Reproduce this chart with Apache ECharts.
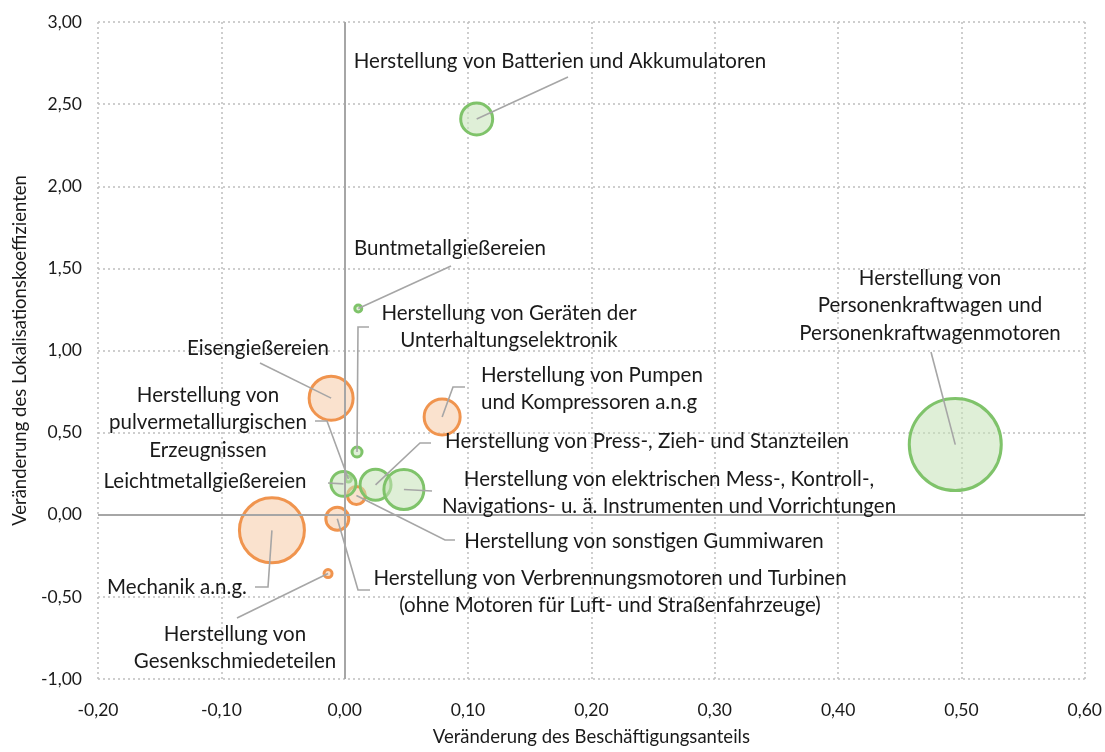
<!DOCTYPE html>
<html>
<head>
<meta charset="utf-8">
<script src="https://cdn.jsdelivr.net/npm/echarts@6/dist/echarts.min.js"></script>
<style>
html,body{margin:0;padding:0;background:#fff;}
#chart{width:1105px;height:752px;}
</style>
</head>
<body>
<div id="chart"></div>
<script>
// ---- data ----
const names = [
  "Herstellung von Batterien und Akkumulatoren",
  "Buntmetallgießereien",
  "Herstellung von Geräten der Unterhaltungselektronik",
  "Eisengießereien",
  "Herstellung von Pumpen und Kompressoren a.n.g",
  "Herstellung von pulvermetallurgischen Erzeugnissen",
  "Leichtmetallgießereien",
  "Herstellung von Press-, Zieh- und Stanzteilen",
  "Herstellung von elektrischen Mess-, Kontroll-, Navigations- u. ä. Instrumenten und Vorrichtungen",
  "Herstellung von sonstigen Gummiwaren",
  "Herstellung von Verbrennungsmotoren und Turbinen (ohne Motoren für Luft- und Straßenfahrzeuge)",
  "Mechanik a.n.g.",
  "Herstellung von Gesenkschmiedeteilen",
  "Herstellung von Personenkraftwagen und Personenkraftwagenmotoren"
];
const xValues = [0.107, 0.011, 0.010, -0.011, 0.079, 0.003, -0.001, 0.025, 0.048, 0.0095, -0.006, -0.059, -0.0135, 0.495];
const yValues = [2.41, 1.256, 0.382, 0.71, 0.595, 0.218, 0.188, 0.182, 0.154, 0.117, -0.024, -0.095, -0.358, 0.427];
const sizeValues = [256, 12, 25, 484, 324, 9, 156, 240, 400, 81, 132, 1056, 16, 2116];
const groups = ["g","g","g","o","o","g","g","g","g","o","o","o","o","g"];
const xTicks = ["-0,20","-0,10","0,00","0,10","0,20","0,30","0,40","0,50","0,60"];
const yTicks = ["-1,00","-0,50","0,00","0,50","1,00","1,50","2,00","2,50","3,00"];

// ---- label layout (pixel positions, not data) ----
const labelLayout = [
  {lines:["Herstellung von Batterien und Akkumulatoren"], x:560, y:61, align:"center", leader:[[568,77]]},
  {lines:["Buntmetallgießereien"], x:450, y:248, align:"center", leader:[[451,266]]},
  {lines:["Herstellung von Geräten der","Unterhaltungselektronik"], x:509, y:313, align:"center", leader:[[358,327],[369,327]]},
  {lines:["Eisengießereien"], x:258, y:348, align:"center", leader:[[260,363]]},
  {lines:["Herstellung von Pumpen","und Kompressoren a.n.g"], x:481, y:375, align:"left", leader:[[453,387],[465,387]]},
  {lines:["Herstellung von","pulvermetallurgischen","Erzeugnissen"], x:208, y:395, align:"center", leader:[[327,421],[315,421]]},
  {lines:["Leichtmetallgießereien"], x:205, y:481, align:"center", leader:[[328,483]]},
  {lines:["Herstellung von Press-, Zieh- und Stanzteilen"], x:647, y:441, align:"center", leader:[[420,443],[431,443]]},
  {lines:["Herstellung von elektrischen Mess-, Kontroll-,","Navigations- u. ä. Instrumenten und Vorrichtungen"], x:669, y:479, align:"center", leader:[[432,491]]},
  {lines:["Herstellung von sonstigen Gummiwaren"], x:644, y:541, align:"center", leader:[[445,540],[455,540]]},
  {lines:["Herstellung von Verbrennungsmotoren und Turbinen","(ohne Motoren für Luft- und Straßenfahrzeuge)"], x:610, y:578, align:"center", leader:[[358,590],[370,590]]},
  {lines:["Mechanik a.n.g."], x:177, y:587, align:"center", leader:[[268,587],[255,587]]},
  {lines:["Herstellung von","Gesenkschmiedeteilen"], x:235, y:634, align:"center", leader:[[237,618]]},
  {lines:["Herstellung von","Personenkraftwagen und","Personenkraftwagenmotoren"], x:930, y:278, align:"center", leader:[[931,352]]}
];

const FONT = "Lato";
const TXT = "#1a1a1a";
const LABEL_SIZE = 20.5;
const LINE_H = 27.5;
const colors = {
  o: {fill:"rgba(246,206,174,0.6)", border:"#F0944E"},
  g: {fill:"rgba(196,226,182,0.55)", border:"#7FC36A"}
};

const seriesData = { o: [], g: [] };
names.forEach((n,i)=>{
  seriesData[groups[i]].push({name:n, value:[xValues[i], yValues[i], sizeValues[i]]});
});

const chart = echarts.init(document.getElementById('chart'), null, {renderer:'canvas'});

const option = {
  animation:false,
  backgroundColor:'#fff',
  grid:{left:98, right:19, top:22, bottom:71},
  xAxis:{
    type:'value', min:-0.2, max:0.6, interval:0.1,
    name:'Veränderung des Beschäftigungsanteils', nameLocation:'middle', nameGap:49,
    nameTextStyle:{fontFamily:FONT, fontSize:18.5, color:TXT},
    axisLine:{show:false, onZero:false}, axisTick:{show:false},
    axisLabel:{fontFamily:FONT, fontSize:17.5, color:TXT, margin:22,
      formatter:(v)=>xTicks[Math.round((v+0.2)*10)]},
    splitLine:{show:true, lineStyle:{color:'#BFBFBF', type:[2,3], width:1.5}}
  },
  yAxis:{
    type:'value', min:-1, max:3, interval:0.5,
    name:'Veränderung des Lokalisationskoeffizienten', nameLocation:'middle', nameGap:68,
    nameTextStyle:{fontFamily:FONT, fontSize:18.5, color:TXT},
    axisLine:{show:false, onZero:false}, axisTick:{show:false},
    axisLabel:{fontFamily:FONT, fontSize:17.5, color:TXT, margin:16,
      formatter:(v)=>yTicks[Math.round((v+1)*2)]},
    splitLine:{show:true, lineStyle:{color:'#BFBFBF', type:[2,3], width:1.5}}
  },
  series:[
    {
      type:'scatter', name:'zero', data:[], silent:true,
      markLine:{silent:true, symbol:'none', label:{show:false},
        lineStyle:{color:'#A6A6A6', type:'solid', width:2},
        data:[{xAxis:0},{yAxis:0}]}
    },
    {
      type:'scatter', name:'orange', data:seriesData.o,
      symbolSize:(v)=>2*Math.sqrt(v[2]),
      itemStyle:{color:colors.o.fill, borderColor:colors.o.border, borderWidth:3, opacity:1},
      z:3
    },
    {
      type:'scatter', name:'green', data:seriesData.g,
      symbolSize:(v)=>2*Math.sqrt(v[2]),
      itemStyle:{color:colors.g.fill, borderColor:colors.g.border, borderWidth:3, opacity:1},
      z:3
    }
  ]
};
chart.setOption(option);

// leader lines and labels
const graphics = [];
labelLayout.forEach((L,i)=>{
  const c = chart.convertToPixel({gridIndex:0}, [xValues[i], yValues[i]]);
  const pts = [c].concat(L.leader);
  graphics.push({type:'polyline', shape:{points:pts}, style:{stroke:'#A6A6A6', lineWidth:1.6, fill:null}, z:10, silent:true});
  L.lines.forEach((t,k)=>{
    graphics.push({type:'text', x:L.x, y:L.y + k*LINE_H, z:11, silent:true,
      style:{text:t, fontFamily:FONT, fontSize:LABEL_SIZE, fill:TXT, align:L.align, verticalAlign:'middle'}});
  });
});
chart.setOption({graphic:graphics});
</script>
</body>
</html>
